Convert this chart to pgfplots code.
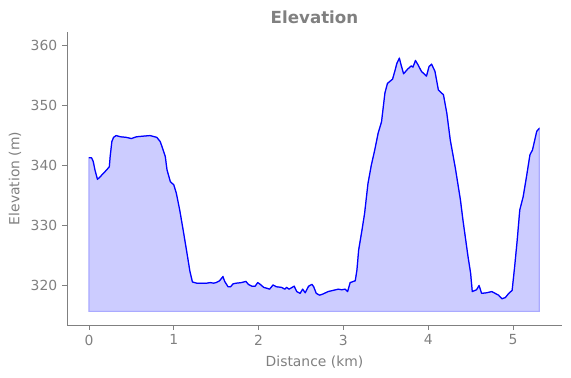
\documentclass[border=0pt]{standalone}
\usepackage{fontspec}
\setmainfont{DejaVu Sans}
\usepackage{pgfplots}
\pgfplotsset{compat=1.18}
\usepgfplotslibrary{fillbetween}
\pgfplotstableread{
x y
0 341.2
0.03 341.2
0.05 340.6
0.07 339.2
0.10 337.6
0.13 338.0
0.17 338.6
0.21 339.2
0.24 339.7
0.25 341.4
0.27 343.9
0.29 344.6
0.32 344.9
0.37 344.7
0.44 344.6
0.50 344.4
0.56 344.7
0.64 344.8
0.72 344.9
0.80 344.6
0.84 343.9
0.86 343.1
0.90 341.4
0.92 339.2
0.96 337.2
1.00 336.7
1.03 335.3
1.07 332.5
1.11 329.2
1.15 325.8
1.19 322.3
1.22 320.5
1.27 320.3
1.39 320.3
1.43 320.4
1.47 320.3
1.50 320.4
1.54 320.7
1.58 321.4
1.60 320.6
1.64 319.7
1.67 319.7
1.70 320.2
1.74 320.3
1.80 320.4
1.85 320.6
1.88 320.1
1.92 319.8
1.96 319.8
1.99 320.4
2.02 320.1
2.06 319.6
2.11 319.4
2.13 319.3
2.17 320.0
2.21 319.7
2.27 319.6
2.31 319.3
2.33 319.6
2.36 319.3
2.42 319.8
2.45 318.9
2.49 318.6
2.52 319.3
2.55 318.7
2.59 319.8
2.63 320.1
2.65 319.7
2.68 318.6
2.72 318.3
2.76 318.5
2.82 318.9
2.88 319.1
2.94 319.3
2.98 319.2
3.02 319.3
3.05 318.9
3.08 320.4
3.14 320.7
3.16 322.5
3.18 325.8
3.22 329.2
3.25 331.9
3.29 336.9
3.33 340.0
3.37 342.5
3.41 345.3
3.45 347.2
3.49 352.0
3.52 353.6
3.58 354.3
3.61 355.8
3.63 356.9
3.66 357.8
3.68 356.7
3.71 355.2
3.76 356.0
3.80 356.5
3.82 356.3
3.85 357.4
3.88 356.7
3.92 355.6
3.98 354.8
4.01 356.4
4.04 356.8
4.08 355.6
4.12 352.5
4.18 351.7
4.22 348.6
4.26 344.2
4.32 339.5
4.38 334.2
4.41 330.8
4.47 324.7
4.50 322.0
4.52 318.9
4.57 319.2
4.60 319.9
4.63 318.6
4.69 318.7
4.75 318.9
4.79 318.6
4.83 318.3
4.87 317.7
4.91 317.9
4.95 318.6
4.99 319.1
5.02 323.1
5.05 327.5
5.08 332.5
5.12 334.7
5.16 338.1
5.20 341.7
5.23 342.5
5.28 345.6
5.31 346.1
}\elev
\definecolor{txtgray}{HTML}{808080}
\definecolor{fillblue}{HTML}{CCCCFF}
\definecolor{edgeblue}{HTML}{AAAAFF}
\begin{document}
\begin{tikzpicture}
\path (-48.24pt,-38.16pt) rectangle (362.88pt,234pt);
\begin{axis}[
  at={(0,0)}, anchor=south west,
  scale only axis, width=356.4pt, height=211pt,
  xmin=-0.259, xmax=5.578, ymin=313.33, ymax=362.17,
  axis x line*=bottom, axis y line*=left,
  axis line style={txtgray, line width=0.6pt},
  xtick={0,1,2,3,4,5}, ytick={320,330,340,350,360},
  tick align=outside, major tick length=3.5pt,
  tick style={txtgray, line width=0.6pt},
  tick label style={font=\fontsize{10}{12}\selectfont, text=txtgray},
  /pgf/number format/assume math mode=true,
  yticklabel style={/pgf/number format/.cd, fixed, precision=0, 1000 sep={}},
  xlabel={Distance (km)}, ylabel={Elevation (m)},
  label style={font=\fontsize{10}{12}\selectfont, text=txtgray},
  xlabel style={yshift=-1pt},
  title={Elevation},
  title style={font=\fontsize{12}{14}\selectfont\bfseries, text=txtgray, yshift=-3.5pt},
  clip=false,
]
\addplot[draw=none, name path=top, forget plot] table[x=x,y=y] {\elev};
\addplot[draw=none, name path=base, forget plot] coordinates {(0,315.6) (5.31,315.6)};
\addplot[fill=fillblue, draw=edgeblue, line width=0.8pt] fill between[of=top and base];
\addplot[blue, line width=0.9pt, line join=round] table[x=x,y=y] {\elev};
\end{axis}
\end{tikzpicture}
\end{document}
